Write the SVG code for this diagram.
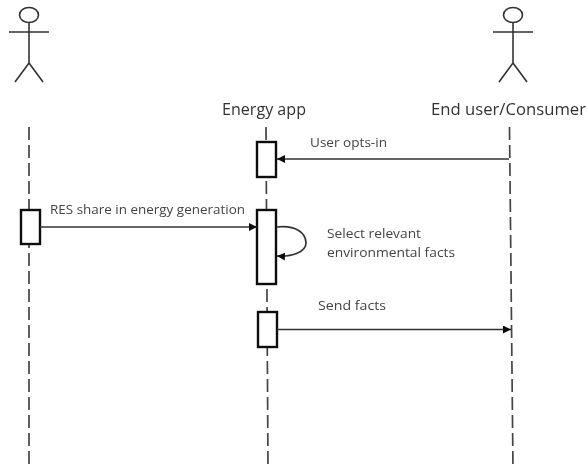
<svg xmlns="http://www.w3.org/2000/svg" width="587" height="469" viewBox="0 0 587 469">
<style>
.a{fill:none;stroke:#333;stroke-width:1.6}
.l{fill:none;stroke:#444;stroke-width:1.7;stroke-dasharray:13 5}
.b{fill:#fff;stroke:#111;stroke-width:2.4}
.c{fill:none;stroke:#333;stroke-width:1.7}
text{font-family:"Open Sans","Liberation Sans",sans-serif;fill:#444}
.t{font-size:16.2px;fill:#333}
.s{font-size:13.2px}
</style>
<defs>
<marker id="h" markerWidth="9" markerHeight="9" refX="8" refY="4" orient="auto" markerUnits="userSpaceOnUse"><path d="M0 0L8 4L0 8Z" fill="#111"/></marker>
<filter id="soft" x="0" y="0" width="100%" height="100%" filterUnits="objectBoundingBox"><feGaussianBlur stdDeviation="0.4"/></filter>
</defs>
<rect width="587" height="469" fill="#fff"/>
<g filter="url(#soft)">
<rect width="587" height="469" fill="#fff"/>
<g id="actor-left"><ellipse class="a" cx="29" cy="15" rx="9.5" ry="7.5"/><path class="a" d="M9 32H49M29 22.500V63M29 63L15 82M29 63L43 82"/></g>
<g id="actor-right"><ellipse class="a" cx="513" cy="15" rx="9.500" ry="7.500"/><path class="a" d="M493 32H533M513 22.500V63M513 63L499 82M513 63L527 82"/></g>
<g id="lifelines"><path class="l" d="M29 127V469"/><path class="l" d="M266 127L268 469"/><path class="l" d="M509.500 127L513 469"/></g>
<g id="label-energy"><text class="t" x="222" y="115" textLength="84" lengthAdjust="spacingAndGlyphs">Energy app</text></g>
<g id="label-consumer"><text class="t" x="431" y="115" textLength="155" lengthAdjust="spacingAndGlyphs">End user/Consumer</text></g>
<g id="box-app-1"><rect class="b" x="257" y="142" width="19" height="35"/></g>
<g id="box-left"><rect class="b" x="21" y="210" width="19" height="34"/></g>
<g id="box-app-2"><rect class="b" x="257" y="210" width="19" height="74"/></g>
<g id="box-app-3"><rect class="b" x="258" y="312" width="19" height="35"/></g>
<g id="connectors">
<path class="c" d="M509 159H277" marker-end="url(#h)"/>
<path class="c" d="M40 227H257" marker-end="url(#h)"/>
<path class="c" d="M277 227C296 225 306 233 306 243C306 252 292 257 277 256" marker-end="url(#h)"/>
<path class="c" d="M277 329.500H511" marker-end="url(#h)"/>
</g>
<g id="labels">
<text class="s" x="310" y="147" textLength="77" lengthAdjust="spacingAndGlyphs">User opts-in</text>
<text class="s" x="50" y="214" textLength="195" lengthAdjust="spacingAndGlyphs">RES share in energy generation</text>
<text class="s" x="327" y="238" textLength="94" lengthAdjust="spacingAndGlyphs">Select relevant</text>
<text class="s" x="327" y="257" textLength="128" lengthAdjust="spacingAndGlyphs">environmental facts</text>
<text class="s" x="318" y="310" textLength="68" lengthAdjust="spacingAndGlyphs">Send facts</text>
</g>
</g>
</svg>
